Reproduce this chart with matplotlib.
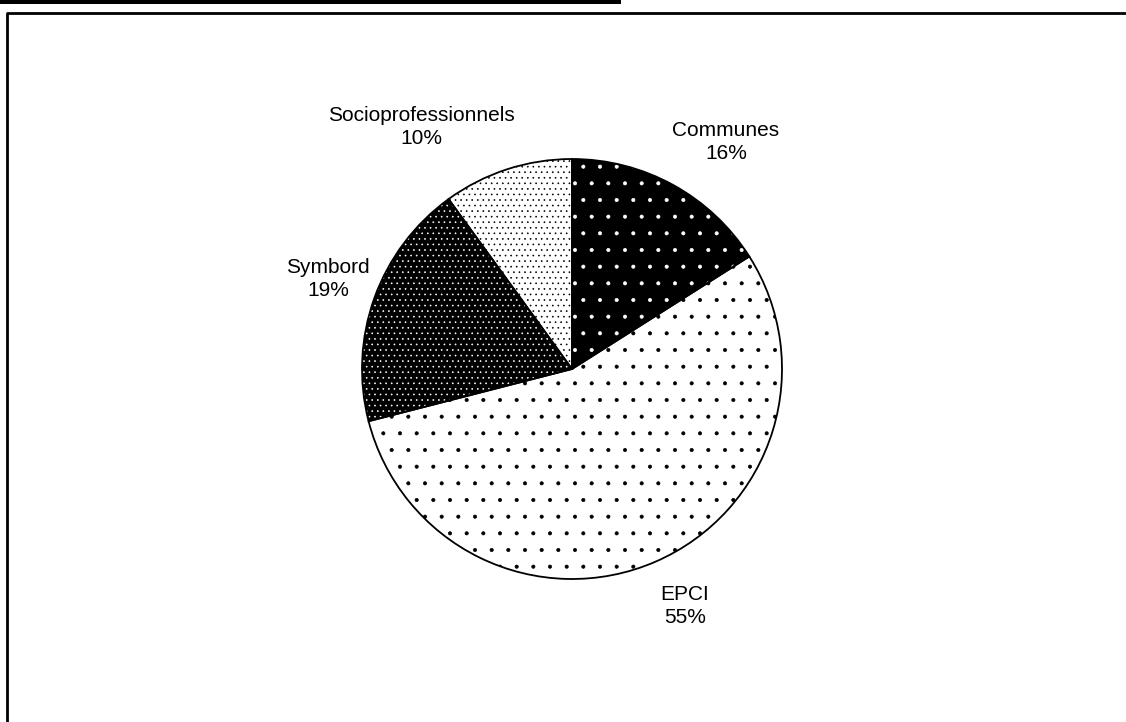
"""
Pie chart: breakdown of funding by contributor (black & white dotted wedges).
"""

import matplotlib
matplotlib.use('Agg')
import matplotlib.pyplot as plt
from matplotlib import font_manager
from matplotlib.lines import Line2D
from matplotlib.patches import Rectangle

# ── Data ─────────────────────────────────────────────────────
labels = ["Communes", "EPCI", "Symbord", "Socioprofessionnels"]
values = [16, 55, 19, 10]

# ── Style ────────────────────────────────────────────────────
face_colors = ["black", "white", "black", "white"]
dot_colors = ["white", "black", "white", "black"]
hatches = [".", ".", "...", "..."]

# label centres in pie units (radius = 1), one per wedge
label_pos = [(0.733, 1.081), (0.538, -1.129), (-1.162, 0.429), (-0.719, 1.152)]

W, H = 1126, 722
CX, CY, R = 572, 369, 210   # pie centre / radius in pixels (from top-left)

names = {f.name for f in font_manager.fontManager.ttflist}
if "Liberation Sans Narrow" in names:
    FONT, FSIZE = "Liberation Sans Narrow", 16.5
else:
    FONT, FSIZE = "Liberation Sans", 15

plt.rcParams['font.family'] = [FONT, 'DejaVu Sans']
plt.rcParams['hatch.linewidth'] = 0.45


def main():
    fig = plt.figure(figsize=(W / 100, H / 100), dpi=100)

    # frame + black bar at the top (page decoration)
    fig.add_artist(Rectangle((0, 1 - 3.5 / H), 621 / W, 3.5 / H,
                             transform=fig.transFigure, color="black", lw=0))
    fig.add_artist(Line2D([7 / W, 7 / W, 1.01], [-0.01, 1 - 12.5 / H, 1 - 12.5 / H],
                          transform=fig.transFigure, color="black", lw=2.0))

    ax = fig.add_axes([(CX - R) / W, (H - CY - R) / H, 2 * R / W, 2 * R / H])
    ax.set_aspect('equal')
    ax.axis('off')

    wedges, _ = ax.pie(values, startangle=90, counterclock=False, radius=1,
                       frame=False)
    for w, fc, dc, h in zip(wedges, face_colors, dot_colors, hatches):
        w.set_facecolor(fc)
        w.set_edgecolor(dc)   # sets the hatch colour
        w.set_linewidth(0)
        w.set_hatch(h)

    # outline on top
    ax.pie(values, startangle=90, counterclock=False, radius=1, frame=False,
           wedgeprops=dict(fill=False, edgecolor="black", linewidth=1.3))
    ax.set_xlim(-1, 1)
    ax.set_ylim(-1, 1)

    for lab, v, (x, y) in zip(labels, values, label_pos):
        ax.text(x, y, f"{lab}\n{v}%", ha='center', va='center',
                multialignment='center', fontsize=FSIZE, linespacing=1.3,
                clip_on=False)

    fig.savefig("out.png", dpi=100)
    plt.close(fig)


if __name__ == "__main__":
    main()
